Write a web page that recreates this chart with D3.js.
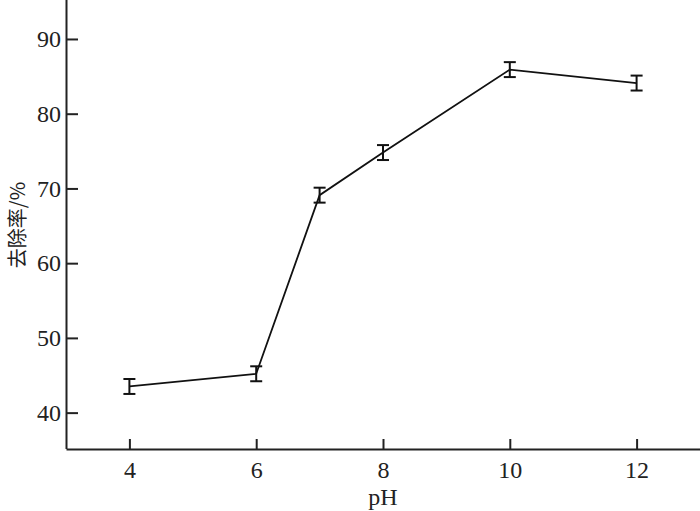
<!DOCTYPE html>
<html><head><meta charset="utf-8">
<script src="https://cdn.jsdelivr.net/npm/d3@7"></script>
<style>body{margin:0;background:#fff}</style>
</head><body>
<svg id="c" width="700" height="511"></svg>
<script>
const pH = [4, 6, 7, 8, 10, 12];
const removal = [43.5, 45.2, 69.1, 74.8, 85.9, 84.1];
const err = [1.0, 1.0, 1.0, 1.0, 1.0, 1.0];
const xTicks = [4, 6, 8, 10, 12];
const yTicks = [40, 50, 60, 70, 80, 90];

const svg = d3.select("#c");
const L = 66, R = 700, T = 1.6, B = 450;
const x = d3.scaleLinear().domain([3, 13]).range([L, R]);
const y = d3.scaleLinear().domain([35, 95]).range([B, T]);
const font = "'Liberation Serif','Times New Roman',serif";

const xa = svg.append("g").attr("transform", `translate(0,449)`)
  .call(d3.axisBottom(x).tickValues(xTicks).tickSize(-10).tickPadding(12).tickSizeOuter(0));
const ya = svg.append("g").attr("transform", `translate(${L},0)`)
  .call(d3.axisLeft(y).tickValues(yTicks).tickSize(-12).tickPadding(5).tickSizeOuter(0));
[xa, ya].forEach(g => {
  g.attr("font-family", font).attr("font-size", 24);
  g.select(".domain").attr("stroke", "#222").attr("stroke-width", 2);
  g.selectAll(".tick line").attr("stroke", "#222").attr("stroke-width", 2);
  g.selectAll(".tick text").attr("fill", "#222").style("font-family", font).style("font-size", "24px");
});
ya.select(".domain").attr("d", `M0.5,0V${449}`);

const data = pH.map((p, i) => ({p, v: removal[i], e: err[i]}));
svg.append("path").datum(data)
  .attr("fill", "none").attr("stroke", "#111").attr("stroke-width", 1.8)
  .attr("d", d3.line().x(d => x(d.p)).y(d => y(d.v)));

const eb = svg.append("g").attr("stroke", "#111").attr("stroke-width", 2);
data.forEach(d => {
  const cx = x(d.p);
  eb.append("line").attr("x1", cx).attr("x2", cx).attr("y1", y(d.v - d.e)).attr("y2", y(d.v + d.e));
  [d.v - d.e, d.v + d.e].forEach(v =>
    eb.append("line").attr("x1", cx - 6).attr("x2", cx + 6).attr("y1", y(v)).attr("y2", y(v)));
});

svg.append("text").attr("x", x(8)).attr("y", 505).attr("text-anchor", "middle")
  .style("font-family", font).style("font-size", "24px").attr("fill", "#222").text("pH");
svg.append("text").attr("transform", `translate(25,225) rotate(-90)`).attr("text-anchor", "middle")
  .style("font-family", "'Noto Sans CJK SC',sans-serif").style("font-size", "20px").attr("fill", "#222")
  .text("去除率/%");
</script>
</body></html>
